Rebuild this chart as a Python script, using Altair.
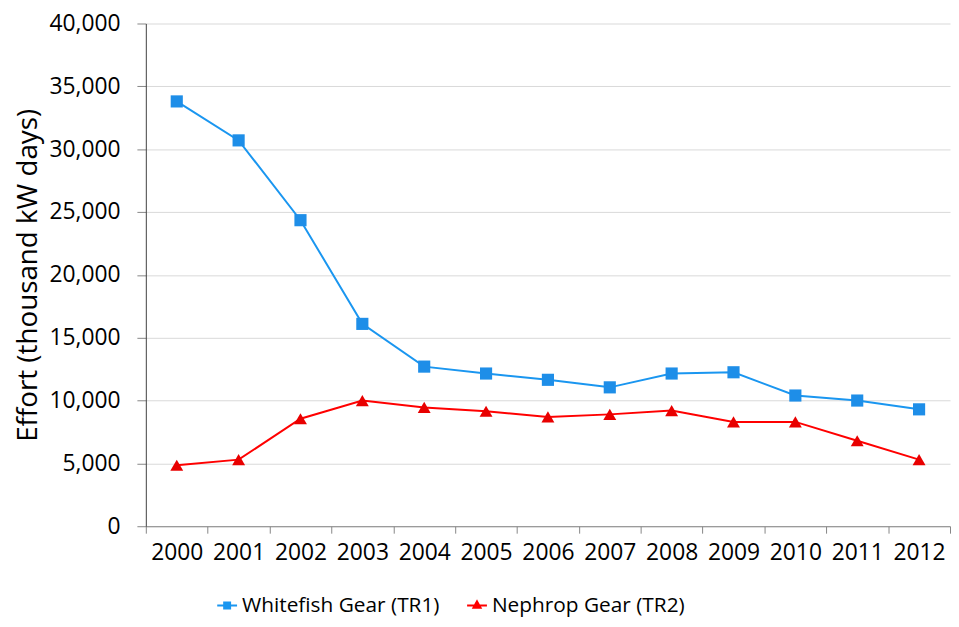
import altair as alt
import pandas as pd

years = [str(y) for y in range(2000, 2013)]
whitefish = [33800, 30700, 24350, 16100, 12700, 12150, 11650, 11050, 12150, 12250, 10400, 10000, 9300]
nephrop = [4850, 5300, 8550, 10000, 9450, 9150, 8700, 8900, 9200, 8300, 8300, 6800, 5300]
series = ["Whitefish Gear (TR1)", "Nephrop Gear (TR2)"]
line_colors = ["#1a96f0", "#ff0000"]
marker_colors = ["#1e8ee8", "#e80000"]
y_ticks = [0, 5000, 10000, 15000, 20000, 25000, 30000, 35000, 40000]

FONT = "Open Sans"

x = alt.X(
    "Year:O",
    scale=alt.Scale(type="band", paddingInner=0, paddingOuter=0),
    bandPosition=0.5,
    axis=alt.Axis(
        title=None, labelAngle=0, tickBand="extent", grid=False,
        domainColor="#868686", tickColor="#868686", tickSize=7,
        labelPadding=9, labelFont=FONT, labelFontSize=23, labelColor="#000000",
    ),
)
y = alt.Y(
    "Effort:Q",
    scale=alt.Scale(domain=[0, 40000], nice=False),
    axis=alt.Axis(
        title="Effort (thousand kW days)", values=y_ticks, format=",.0f",
        grid=True, gridColor="#d9d9d9", gridWidth=1,
        domainColor="#404040", tickColor="#868686", tickSize=9,
        labelPadding=17, labelFont=FONT, labelFontSize=23, labelColor="#000000",
        titleFont=FONT, titleFontSize=28, titleFontWeight="normal", titleColor="#000000",
        titlePadding=7,
    ),
)

# legend symbols: a short line with the series marker on it
legend_paths = [
    "M-1,0H1M-0.3,-0.3H0.3V0.3H-0.3Z",
    "M-1,0H1M0,-0.42L0.36,0.22H-0.36Z",
]
marker_shapes = ["square", "triangle-up"]
marker_sizes = [150, 170]
legend_x = [71, 323]


def series_layer(i, values):
    name = series[i]
    d = pd.DataFrame({"Year": years, "Effort": values, "Series": [name] * len(years)})
    line = alt.Chart(d).mark_line(strokeWidth=2).encode(
        x=x, y=y,
        color=alt.Color(
            "Series:N",
            scale=alt.Scale(domain=[name], range=[line_colors[i]]),
            legend=alt.Legend(
                title=None, orient="none", legendX=legend_x[i], legendY=576,
                direction="horizontal", labelFont=FONT, labelFontSize=21,
                labelLimit=400, labelColor="#000000", labelOffset=4,
                symbolSize=400, symbolType=legend_paths[i],
                symbolStrokeWidth=2, symbolStrokeColor=line_colors[i],
                symbolFillColor=line_colors[i], symbolOpacity=1,
            ),
        ),
    )
    pts = alt.Chart(d).mark_point(
        filled=True, opacity=1, shape=marker_shapes[i], size=marker_sizes[i],
        color=marker_colors[i],
    ).encode(x=x, y=y)
    return alt.layer(line, pts)


chart = alt.layer(
    series_layer(0, whitefish), series_layer(1, nephrop)
).resolve_scale(
    color="independent"
).properties(
    width=811, height=507,
    padding={"left": 139, "top": 13, "right": 1, "bottom": 99},
    autosize=alt.AutoSizeParams(type="none"),
).configure_view(stroke=None)

chart.save("out.html", embed_options={"renderer": "svg", "actions": False})
